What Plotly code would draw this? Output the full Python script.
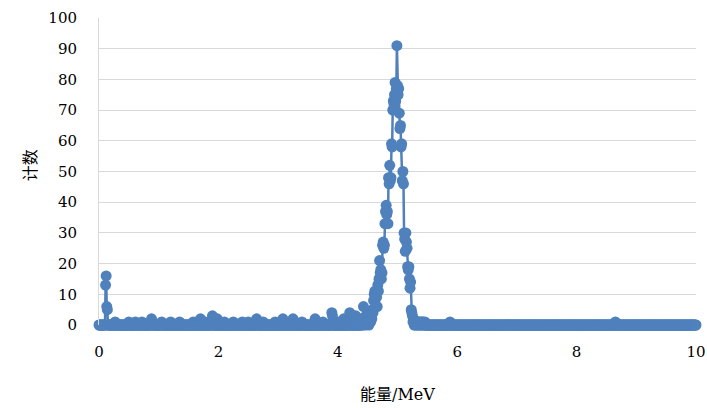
import plotly.graph_objects as go

# Energy channels (MeV): 1001 channels of 0.01 MeV from 0 to 10 MeV
channel_width = 0.01
n_channels = 1001
energy = [round(i * channel_width, 2) for i in range(n_channels)]

# Counts (channels not listed have 0 counts)
low_energy_counts = {
    0.11: 13, 0.12: 16, 0.13: 6, 0.14: 5,
    0.27: 1, 0.50: 1, 0.61: 1, 0.72: 1, 0.88: 2, 0.89: 1,
    1.05: 1, 1.20: 1, 1.35: 1, 1.58: 1, 1.70: 2, 1.78: 1,
    1.90: 3, 1.91: 2, 1.98: 2, 2.10: 1, 2.25: 1, 2.40: 1,
    2.50: 1, 2.64: 2, 2.66: 1, 2.75: 1, 2.95: 1, 3.08: 2,
    3.25: 2, 3.40: 1, 3.62: 2, 3.75: 1, 3.90: 4, 3.91: 3,
    4.00: 1, 4.10: 2, 4.20: 4, 4.21: 3, 4.30: 3, 4.35: 2,
}

peak_start = 4.40
peak_counts = [
    1, 2, 0, 6, 1, 2, 0, 3, 1, 2,          # 4.40 - 4.49
    1, 3, 0, 2, 4, 1, 3, 2, 5, 4,          # 4.50 - 4.59
    8, 10, 11, 9, 10, 9, 6, 13, 11, 15,    # 4.60 - 4.69
    21, 17, 18, 15, 17, 26, 27, 25, 26, 33,  # 4.70 - 4.79
    37, 39, 36, 37, 33, 48, 46, 52, 47, 48,  # 4.80 - 4.89
    59, 58, 70, 73, 72, 75, 79, 73, 77, 91,  # 4.90 - 4.99
    78, 75, 77, 69, 64, 65, 58, 59, 47, 50,  # 5.00 - 5.09
    46, 30, 28, 24, 30, 27, 25, 19, 18, 19,  # 5.10 - 5.19
    15, 12, 14, 5, 4, 3, 1, 2, 0, 1,        # 5.20 - 5.29
    0, 1, 0, 1, 1, 0, 1, 0, 1, 0,          # 5.30 - 5.39
    1, 0, 1, 1, 0, 0, 1,                   # 5.40 - 5.46
]

high_energy_counts = {5.88: 1, 8.65: 1}

counts = [0] * n_channels
for e, c in low_energy_counts.items():
    counts[int(round(e / channel_width))] = c
start_idx = int(round(peak_start / channel_width))
for k, c in enumerate(peak_counts):
    counts[start_idx + k] = c
for e, c in high_energy_counts.items():
    counts[int(round(e / channel_width))] = c

x_ticks = [0, 2, 4, 6, 8, 10]
y_ticks = [0, 10, 20, 30, 40, 50, 60, 70, 80, 90, 100]
x_title = "能量/MeV"
y_title = "计数"

color = "#4F81BD"
num_font = "DejaVu Serif"
title_font = "DejaVu Serif, Noto Sans CJK SC"

fig = go.Figure()
fig.add_trace(go.Scatter(
    x=energy, y=counts, mode="lines+markers",
    line=dict(color=color, width=2.5),
    marker=dict(color=color, size=11),
    cliponaxis=False, showlegend=False, hoverinfo="skip",
))

fig.update_layout(
    width=707, height=408,
    margin=dict(l=99, r=11, t=18, b=83, autoexpand=False),
    paper_bgcolor="white", plot_bgcolor="white",
    font=dict(family=num_font, size=15, color="black"),
)
fig.update_xaxes(
    range=[0, 10], tickvals=x_ticks, ticktext=[str(v) for v in x_ticks],
    showgrid=False, zeroline=False, showline=False, automargin=False,
    ticks="", ticklabelstandoff=16,
    tickfont=dict(family=num_font, size=15, color="black"),
)
fig.update_yaxes(
    range=[0, 100], tickvals=y_ticks, ticktext=[str(v) for v in y_ticks],
    showgrid=True, gridcolor="#d9d9d9", gridwidth=1, automargin=False,
    zeroline=False, showline=True, linecolor="#d9d9d9", linewidth=1,
    ticks="", ticklabelstandoff=18,
    tickfont=dict(family=num_font, size=15, color="black"),
)

fig.add_annotation(
    text=x_title, xref="paper", yref="paper", x=0.5, y=-0.228,
    xanchor="center", yanchor="middle", showarrow=False,
    font=dict(family=title_font, size=16, color="black"),
)
fig.add_annotation(
    text=y_title, xref="paper", yref="paper", x=-0.1156, y=0.52,
    xanchor="center", yanchor="middle", showarrow=False, textangle=-90,
    font=dict(family=title_font, size=16, color="black"),
)

fig.write_html(
    "out.html",
    config={"displayModeBar": False},
    post_script="document.body.style.margin='0';document.body.style.overflow='hidden';",
)
